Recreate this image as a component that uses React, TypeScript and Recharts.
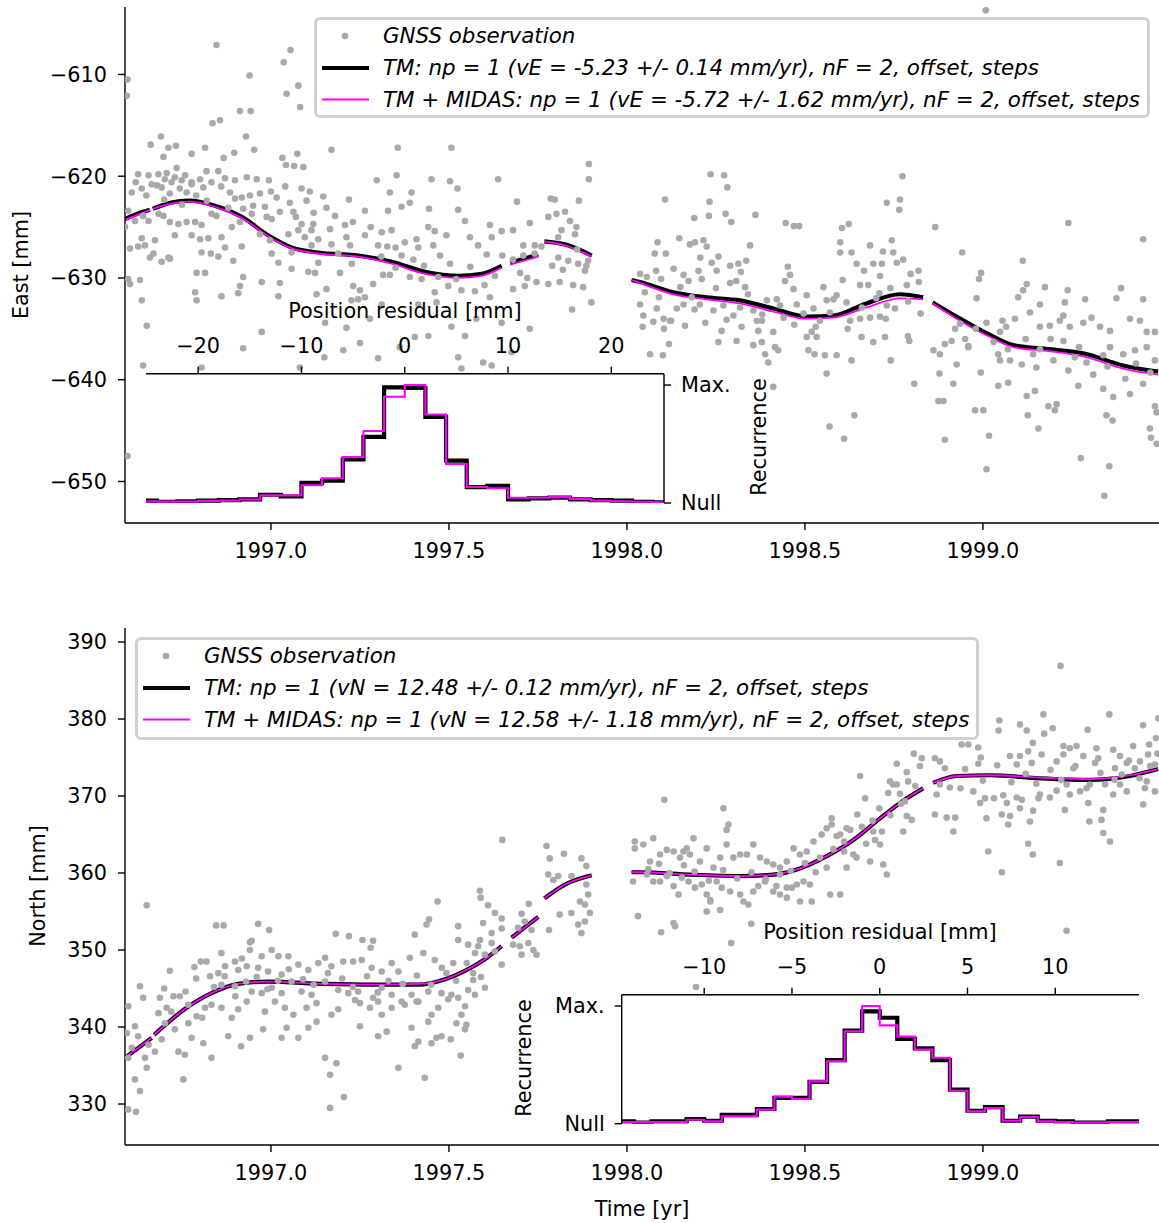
import { ComposedChart, LineChart, Line, Scatter, XAxis, YAxis, CartesianGrid } from 'recharts';

const FONT = '"DejaVu Sans", sans-serif';
const FS = 20.8;
const LEG_FS = 21.4;
const GREY = '#a9a9a9';
const MAGENTA = '#ff00ff';

// ---- x axis (time) ----
const timeTicks = [1997.0, 1997.5, 1998.0, 1998.5, 1999.0];
const timeDomain = [1996.59, 1999.503];

// ---- East component ----
const eastTicks = [-650, -640, -630, -620, -610];
const eastDomain = [-654.08, -603.37];

const eastObs: [number, number][] = [
  [1996.597, -610.5], [1996.595, -612.1], [1996.847, -607.1], [1997.055, -607.6], [1997.036, -608.8],
  [1996.94, -610.1], [1997.077, -611.1], [1997.044, -611.9], [1997.082, -613.2], [1996.913, -613.6],
  [1996.943, -613.6], [1996.836, -614.8], [1996.857, -614.5], [1996.93, -616.1], [1996.691, -616.1],
  [1996.662, -616.9], [1996.712, -617.2], [1996.733, -617.0], [1996.815, -617.2], [1996.777, -617.8],
  [1996.698, -618.1], [1996.867, -618.2], [1996.897, -617.7], [1996.953, -617.4], [1997.032, -618.2],
  [1997.074, -617.8], [1997.042, -618.9], [1997.065, -619.0], [1997.091, -619.1], [1997.17, -617.4],
  [1997.356, -617.2], [1997.507, -617.2], [1996.627, -619.8], [1996.656, -619.9], [1996.684, -619.8],
  [1996.707, -619.7], [1996.735, -619.2], [1996.759, -619.9], [1996.819, -619.5], [1996.852, -619.5],
  [1996.871, -620.2], [1996.899, -620.4], [1996.932, -620.1], [1996.96, -620.3], [1996.994, -620.4],
  [1996.702, -620.3], [1996.721, -620.6], [1996.749, -620.4], [1996.777, -620.6], [1996.801, -620.3],
  [1996.833, -620.6], [1996.609, -621.6], [1996.637, -621.2], [1996.665, -620.8], [1996.693, -621.1],
  [1996.716, -621.7], [1996.744, -621.2], [1996.763, -621.6], [1996.777, -620.8], [1996.81, -621.1],
  [1996.885, -621.6], [1996.918, -622.1], [1996.941, -621.9], [1996.969, -621.7], [1997.016, -622.1],
  [1997.053, -622.6], [1997.086, -621.2], [1997.1, -622.4], [1997.109, -621.5], [1997.147, -622.0],
  [1997.156, -623.1], [1997.219, -622.3], [1997.297, -620.4], [1997.353, -619.9], [1997.334, -621.6],
  [1997.395, -621.6], [1997.451, -620.3], [1997.503, -620.5], [1997.524, -621.2], [1997.638, -620.3],
  [1997.691, -622.5], [1997.786, -622.2], [1997.797, -622.3], [1997.865, -622.4], [1997.893, -618.8],
  [1997.893, -620.3], [1996.599, -623.4], [1996.618, -624.4], [1996.641, -623.9], [1996.656, -624.4],
  [1996.684, -623.7], [1996.698, -623.9], [1996.716, -624.5], [1996.74, -624.7], [1996.763, -624.5],
  [1996.787, -624.5], [1996.805, -624.8], [1996.833, -623.7], [1996.847, -623.9], [1996.899, -622.2],
  [1996.922, -623.2], [1996.946, -623.7], [1996.983, -623.0], [1996.988, -624.0], [1997.002, -624.2],
  [1997.025, -623.5], [1997.063, -623.5], [1997.086, -624.7], [1997.119, -624.7], [1997.114, -625.3],
  [1997.166, -625.2], [1997.208, -624.8], [1997.264, -623.4], [1997.329, -623.4], [1997.367, -623.0],
  [1997.39, -622.6], [1997.444, -623.2], [1997.526, -623.3], [1997.545, -624.4], [1997.615, -624.8],
  [1997.68, -625.3], [1997.727, -624.6], [1997.779, -624.0], [1997.802, -623.7], [1997.826, -623.5],
  [1997.84, -624.4], [1997.858, -625.0], [1996.59, -625.0], [1996.637, -626.1], [1996.674, -626.3],
  [1996.73, -625.8], [1996.777, -625.8], [1996.801, -626.2], [1996.824, -626.1], [1996.861, -626.0],
  [1996.89, -625.0], [1996.913, -624.5], [1996.969, -625.7], [1996.997, -626.3], [1997.049, -625.7],
  [1997.077, -625.3], [1997.095, -626.0], [1997.133, -626.2], [1997.17, -626.7], [1997.212, -626.0],
  [1997.222, -626.8], [1997.264, -625.8], [1997.311, -625.5], [1997.339, -625.3], [1997.376, -626.5],
  [1997.409, -626.2], [1997.442, -625.0], [1997.46, -625.4], [1997.493, -625.8], [1997.559, -626.0],
  [1997.582, -626.8], [1997.62, -626.0], [1997.648, -625.4], [1997.709, -626.8], [1997.741, -626.8],
  [1997.807, -626.0], [1997.816, -625.3], [1997.854, -625.7], [1996.604, -627.1], [1996.627, -626.9],
  [1996.646, -626.8], [1996.67, -627.6], [1996.712, -628.0], [1996.805, -627.5], [1996.831, -627.6],
  [1996.852, -627.9], [1996.871, -627.0], [1996.918, -626.9], [1997.002, -627.6], [1997.021, -628.5],
  [1997.058, -627.5], [1997.114, -626.8], [1997.133, -628.5], [1997.189, -627.6], [1997.227, -628.6],
  [1997.301, -626.8], [1997.327, -626.9], [1997.35, -627.0], [1997.367, -627.8], [1997.414, -627.0],
  [1997.456, -626.8], [1997.475, -627.8], [1997.503, -628.6], [1997.606, -627.7], [1997.68, -628.2],
  [1997.709, -627.8], [1997.741, -627.6], [1997.76, -626.9], [1997.807, -628.0], [1997.835, -628.3],
  [1997.863, -628.6], [1997.891, -628.3], [1996.599, -630.1], [1996.632, -630.2], [1996.66, -628.0],
  [1996.693, -628.4], [1996.716, -628.1], [1996.791, -629.5], [1996.815, -629.5], [1996.894, -628.3],
  [1996.922, -629.9], [1996.974, -630.4], [1997.025, -630.5], [1997.058, -629.1], [1997.105, -629.4],
  [1997.124, -629.5], [1997.194, -629.5], [1997.231, -630.8], [1997.25, -631.2], [1997.287, -630.6],
  [1997.315, -629.7], [1997.334, -629.7], [1997.39, -629.9], [1997.423, -630.1], [1997.46, -631.4],
  [1997.498, -630.8], [1997.573, -631.3], [1997.629, -629.8], [1997.68, -631.1], [1997.713, -630.8],
  [1997.746, -630.4], [1997.779, -630.6], [1997.811, -630.4], [1997.849, -630.7], [1997.882, -629.3],
  [1997.886, -628.8], [1997.877, -630.9], [1997.9, -632.4], [1996.604, -630.6], [1996.637, -632.2],
  [1996.787, -631.4], [1996.791, -632.2], [1996.861, -631.8], [1996.913, -630.8], [1996.908, -631.5],
  [1997.021, -631.8], [1997.128, -631.6], [1997.156, -631.1], [1997.226, -632.2], [1997.245, -632.1],
  [1997.264, -631.9], [1997.311, -632.6], [1997.414, -632.6], [1997.465, -632.4], [1997.535, -631.2],
  [1997.615, -631.9], [1997.846, -633.1], [1996.651, -634.7], [1996.974, -635.3], [1997.152, -634.4],
  [1997.212, -634.9], [1997.278, -634.0], [1997.507, -634.8], [1997.545, -635.7], [1997.577, -634.0],
  [1997.648, -634.4], [1997.727, -635.0], [1996.641, -638.6], [1996.805, -638.8], [1996.922, -636.9],
  [1997.081, -638.8], [1997.15, -637.8], [1997.203, -637.1], [1997.25, -636.4], [1997.301, -637.9],
  [1997.362, -636.8], [1997.404, -635.8], [1997.442, -635.7], [1997.526, -637.8], [1997.596, -638.3],
  [1997.62, -638.6], [1997.676, -637.3], [1997.535, -638.9], [1996.597, -647.5],
  [1996.62, -620.6], [1996.65, -621.9], [1996.68, -620.9], [1996.7, -622.3], [1996.73, -620.1],
  [1996.75, -622.8], [1996.79, -621.9], [1996.82, -622.4], [1996.86, -621.0], [1996.88, -623.1],
  [1996.95, -622.9], [1997.0, -621.5], [1997.04, -621.0], [1997.07, -624.0], [1997.12, -623.6],
  [1997.18, -623.9], [1997.23, -624.5], [1997.28, -625.0], [1997.31, -627.9], [1997.35, -629.0],
  [1997.4, -628.2], [1997.43, -628.8], [1997.47, -629.9], [1997.52, -630.1], [1997.56, -628.9],
  [1997.6, -630.7], [1997.65, -627.8], [1997.7, -629.5], [1997.72, -630.0], [1997.79, -628.8],
  [1997.82, -629.2], [1997.86, -627.2],
  [1999.008, -603.7], [1998.235, -619.8], [1998.273, -619.9], [1998.282, -621.1], [1998.774, -620.0],
  [1998.107, -622.3], [1998.232, -622.5], [1998.189, -624.1], [1998.23, -623.9], [1998.277, -623.7],
  [1998.293, -624.5], [1998.361, -623.8], [1998.446, -624.6], [1998.469, -624.9], [1998.484, -624.9],
  [1998.604, -625.1], [1998.623, -624.7], [1998.866, -625.0], [1999.24, -624.6], [1999.45, -626.2],
  [1998.767, -622.3], [1998.765, -623.3], [1998.73, -622.6], [1998.086, -626.5], [1998.078, -627.6],
  [1998.109, -627.6], [1998.147, -626.1], [1998.177, -626.7], [1998.191, -626.5], [1998.215, -626.3],
  [1998.224, -626.9], [1998.206, -628.0], [1998.238, -628.5], [1998.257, -627.9], [1998.346, -626.8],
  [1998.599, -626.5], [1998.599, -627.5], [1998.631, -627.5], [1998.683, -626.8], [1998.744, -626.3],
  [1998.719, -627.4], [1998.748, -627.5], [1998.942, -627.5], [1999.112, -628.3], [1998.037, -629.6],
  [1998.056, -629.9], [1998.082, -629.3], [1998.096, -630.1], [1998.131, -629.1], [1998.159, -629.7],
  [1998.173, -630.3], [1998.201, -629.3], [1998.21, -630.1], [1998.252, -629.3], [1998.29, -628.8],
  [1998.313, -628.6], [1998.335, -628.3], [1998.32, -629.4], [1998.307, -630.3], [1998.29, -630.5],
  [1998.332, -630.9], [1998.452, -628.9], [1998.458, -629.7], [1998.444, -630.3], [1998.468, -631.1],
  [1998.505, -631.7], [1998.552, -630.9], [1998.58, -632.1], [1998.606, -630.2], [1998.645, -628.6],
  [1998.666, -629.3], [1998.692, -628.6], [1998.711, -629.8], [1998.716, -628.6], [1998.758, -628.5],
  [1998.776, -628.2], [1998.797, -629.6], [1998.819, -629.3], [1998.786, -630.7], [1998.655, -630.7],
  [1998.678, -630.7], [1998.709, -631.5], [1998.73, -632.7], [1998.753, -633.0], [1998.982, -632.0],
  [1998.995, -629.5], [1998.989, -630.1], [1999.113, -631.2], [1999.123, -630.6], [1999.099, -631.9],
  [1999.16, -632.6], [1999.174, -630.9], [1999.238, -631.2], [1999.23, -632.4], [1999.287, -632.1],
  [1999.388, -631.0], [1999.375, -632.0], [1999.45, -632.1], [1998.037, -632.6], [1998.046, -633.7],
  [1998.084, -633.0], [1998.103, -634.0], [1998.121, -634.2], [1998.14, -633.0], [1998.159, -632.6],
  [1998.182, -631.9], [1998.205, -632.6], [1998.243, -633.2], [1998.271, -632.7], [1998.299, -633.7],
  [1998.318, -632.9], [1998.355, -633.2], [1998.365, -634.2], [1998.393, -632.2], [1998.421, -632.1],
  [1998.43, -632.7], [1998.477, -632.6], [1998.496, -633.5], [1998.524, -633.0], [1998.561, -632.2],
  [1998.589, -631.7], [1998.617, -632.4], [1998.627, -634.2], [1998.655, -634.0], [1998.683, -633.9],
  [1998.711, -633.8], [1998.727, -634.0], [1998.825, -633.5], [1998.044, -634.8], [1998.074, -634.3],
  [1998.104, -635.0], [1998.124, -634.2], [1998.163, -634.7], [1998.22, -634.4], [1998.266, -635.2],
  [1998.322, -634.8], [1998.369, -635.2], [1998.379, -634.2], [1998.411, -635.3], [1998.542, -634.2],
  [1998.922, -635.0], [1998.936, -634.5], [1998.959, -636.8], [1999.01, -634.4], [1999.048, -635.3],
  [1999.055, -634.2], [1999.065, -634.8], [1999.09, -634.0], [1999.132, -633.4], [1999.16, -634.8],
  [1999.188, -634.7], [1999.216, -634.2], [1999.244, -634.8], [1999.226, -633.7], [1999.282, -634.4],
  [1999.305, -633.9], [1999.329, -634.8], [1999.357, -635.2], [1999.413, -634.0], [1999.441, -634.2],
  [1999.46, -635.3], [1999.483, -635.3], [1998.065, -637.5], [1998.101, -637.6], [1998.118, -636.5],
  [1998.257, -636.3], [1998.308, -636.2], [1998.355, -636.6], [1998.379, -636.3], [1998.388, -637.5],
  [1998.397, -638.3], [1998.416, -636.8], [1998.425, -637.1], [1998.505, -635.8], [1998.519, -635.3],
  [1998.533, -635.8], [1998.51, -637.1], [1998.527, -637.5], [1998.556, -637.6], [1998.589, -637.6],
  [1998.631, -638.1], [1998.659, -635.8], [1998.692, -636.3], [1998.725, -635.8], [1998.741, -638.1],
  [1998.789, -635.7], [1998.793, -636.2], [1998.861, -637.1], [1998.879, -637.5], [1998.893, -636.5],
  [1998.912, -636.2], [1998.926, -638.5], [1998.959, -636.7], [1999.043, -637.5], [1999.048, -638.1],
  [1999.076, -638.1], [1999.109, -638.5], [1999.141, -637.5], [1999.16, -637.0], [1999.198, -638.1],
  [1999.226, -636.2], [1999.258, -637.8], [1999.291, -638.3], [1999.338, -637.6], [1999.357, -636.8],
  [1999.394, -637.5], [1999.427, -637.1], [1999.46, -636.8], [1999.483, -638.1], [1998.994, -639.3],
  [1999.043, -640.6], [1999.071, -640.3], [1999.123, -641.6], [1999.146, -641.1], [1999.184, -642.6],
  [1999.202, -643.0], [1999.207, -642.4], [1999.268, -640.6], [1999.338, -640.9], [1999.366, -641.7],
  [1999.413, -641.4], [1999.45, -640.4], [1999.483, -642.6], [1999.488, -643.2], [1998.889, -642.1],
  [1998.875, -642.1], [1998.978, -643.0], [1999.001, -643.0], [1999.126, -643.5], [1999.156, -644.8],
  [1999.347, -643.5], [1999.364, -644.0], [1999.469, -644.8], [1999.472, -645.7], [1999.488, -646.3],
  [1998.878, -639.4], [1998.917, -640.4], [1998.807, -640.4], [1998.639, -643.5], [1998.569, -644.6],
  [1998.61, -645.8], [1998.893, -645.9], [1999.017, -645.5], [1999.01, -648.8], [1999.275, -647.7],
  [1999.355, -648.5], [1999.341, -651.4], [1998.561, -639.4], [1998.411, -640.7],
  [1998.05, -631.4], [1998.09, -631.9], [1998.15, -630.9], [1998.19, -633.1], [1998.25, -631.0],
  [1998.28, -634.1], [1998.34, -631.6], [1998.38, -633.6], [1998.44, -633.9], [1998.47, -634.6],
  [1998.53, -634.8], [1998.57, -633.4], [1998.62, -635.0], [1998.66, -632.9], [1998.7, -632.0],
  [1998.74, -631.0], [1998.79, -632.3], [1998.82, -630.4], [1998.95, -636.0], [1998.98, -635.0],
  [1999.03, -636.3], [1999.07, -637.0], [1999.12, -636.0], [1999.15, -638.8], [1999.19, -636.0],
  [1999.24, -639.1], [1999.27, -636.8], [1999.31, -639.5], [1999.35, -638.7], [1999.4, -639.9],
  [1999.43, -638.4], [1999.47, -639.3],
];

const eastTM: [number, number | null][] = [
  [1996.59, -624.2], [1996.64, -623.5], [1996.66, -623.3], [1996.663, null], [1996.668, -623.2],
  [1996.72, -622.6], [1996.768, -622.4], [1996.843, -622.9], [1996.918, -624.0], [1996.992, -625.8],
  [1997.058, -627.0], [1997.133, -627.5], [1997.245, -627.8], [1997.339, -628.4], [1997.433, -629.4],
  [1997.526, -629.8], [1997.592, -629.6], [1997.648, -628.8], [1997.66, null], [1997.672, -628.5],
  [1997.751, -627.7], [1997.758, null], [1997.768, -626.4], [1997.826, -626.7], [1997.901, -627.8],
  [1997.95, null], [1998.013, -630.2], [1998.037, -630.4], [1998.13, -631.4], [1998.224, -631.9],
  [1998.317, -632.2], [1998.411, -633.0], [1998.505, -633.8], [1998.579, -633.7], [1998.673, -632.5],
  [1998.767, -631.6], [1998.832, -631.9], [1998.845, null], [1998.859, -632.4], [1998.926, -633.8],
  [1999.02, -635.6], [1999.085, -636.6], [1999.188, -637.0], [1999.282, -637.4], [1999.394, -638.6],
  [1999.492, -639.2],
];

const eastMidas: [number, number | null][] = [
  [1996.59, -624.3], [1996.64, -623.6], [1996.66, -623.3], [1996.663, null], [1996.668, -623.2],
  [1996.72, -622.7], [1996.768, -622.5], [1996.843, -623.0], [1996.918, -624.1], [1996.992, -625.9],
  [1997.058, -627.1], [1997.133, -627.6], [1997.245, -627.9], [1997.339, -628.6], [1997.433, -629.6],
  [1997.526, -630.0], [1997.592, -629.8], [1997.648, -629.0], [1997.66, null], [1997.672, -628.7],
  [1997.751, -627.9], [1997.758, null], [1997.768, -626.4], [1997.826, -626.8], [1997.901, -627.9],
  [1997.95, null], [1998.013, -630.2], [1998.037, -630.5], [1998.13, -631.6], [1998.224, -632.1],
  [1998.317, -632.5], [1998.411, -633.3], [1998.505, -634.0], [1998.579, -633.9], [1998.673, -632.9],
  [1998.767, -632.0], [1998.832, -632.1], [1998.845, null], [1998.859, -632.5], [1998.926, -634.0],
  [1999.02, -635.8], [1999.085, -636.8], [1999.188, -637.2], [1999.282, -637.7], [1999.394, -638.9],
  [1999.492, -639.5],
];

const eastBinEdges = [-26, -24, -22, -20, -18, -16, -14, -12, -10, -8, -6, -4, -2, 0, 2, 4, 6, 8, 10, 12, 14, 16, 18, 20, 22, 24, 26];
const eastHistTM = [0.02, 0.01, 0.015, 0.02, 0.025, 0.03, 0.07, 0.055, 0.17, 0.19, 0.37, 0.56, 0.98, 0.975, 0.73, 0.36, 0.135, 0.145, 0.03, 0.04, 0.045, 0.03, 0.025, 0.02, 0.01, 0.005];
const eastHistMidas = [0.015, 0.012, 0.012, 0.018, 0.02, 0.03, 0.065, 0.065, 0.15, 0.21, 0.39, 0.61, 0.9, 1.0, 0.75, 0.33, 0.135, 0.125, 0.045, 0.045, 0.05, 0.035, 0.02, 0.015, 0.01, 0.005];
const eastResTicks = [-20, -10, 0, 10, 20];

// ---- North component ----
const northTicks = [330, 340, 350, 360, 370, 380, 390];
const northDomain = [324.68, 391.82];

const northObs: [number, number][] = [
  [1997.65, 364.3], [1997.774, 363.5], [1997.783, 361.9], [1997.823, 362.5], [1997.872, 361.9],
  [1997.886, 360.9], [1997.468, 356.3], [1997.587, 357.7], [1997.589, 356.8], [1997.61, 355.8],
  [1997.629, 354.8], [1997.648, 354.1], [1997.724, 356.0], [1997.704, 354.7], [1997.713, 353.7],
  [1997.694, 352.9], [1997.732, 352.6], [1997.779, 359.8], [1997.793, 359.1], [1997.807, 359.6],
  [1997.844, 359.6], [1997.886, 358.5], [1997.891, 357.2], [1997.868, 356.3], [1997.882, 355.9],
  [1997.844, 354.8], [1997.811, 354.6], [1997.863, 353.3], [1997.896, 354.8], [1997.872, 352.2],
  [1997.781, 352.6], [1997.882, 353.7], [1996.651, 355.8], [1996.846, 353.2], [1996.867, 353.2],
  [1996.964, 353.4], [1996.995, 352.6], [1996.946, 351.2], [1996.941, 351.0], [1997.182, 352.1],
  [1997.219, 351.8], [1997.257, 351.3], [1997.287, 351.2], [1997.28, 350.3], [1997.404, 352.0],
  [1997.437, 353.3], [1997.444, 354.0], [1997.526, 353.1], [1997.587, 351.3], [1997.596, 353.5],
  [1997.62, 352.2], [1997.648, 352.8], [1997.582, 350.5], [1997.526, 351.3], [1997.554, 350.7],
  [1997.68, 350.7], [1997.699, 350.5], [1997.723, 350.9], [1997.737, 350.0], [1997.746, 349.4],
  [1997.704, 349.4], [1996.861, 349.6], [1996.819, 348.5], [1996.785, 347.8], [1996.803, 348.5],
  [1996.716, 347.3], [1996.941, 350.0], [1996.974, 349.2], [1997.002, 350.0], [1997.021, 349.2],
  [1997.049, 349.2], [1996.918, 348.9], [1996.899, 348.5], [1996.871, 347.9], [1996.908, 347.4],
  [1996.852, 347.0], [1996.829, 346.6], [1996.932, 347.9], [1996.964, 347.7], [1996.992, 347.2],
  [1997.03, 346.8], [1997.077, 348.1], [1997.105, 347.4], [1997.133, 348.3], [1997.152, 349.0],
  [1997.17, 347.9], [1997.203, 348.5], [1997.231, 348.5], [1997.255, 348.7], [1997.283, 347.7],
  [1997.311, 347.2], [1997.339, 348.3], [1997.358, 347.2], [1997.39, 349.0], [1997.428, 349.6],
  [1997.46, 348.7], [1997.493, 347.0], [1997.512, 348.3], [1997.573, 349.6], [1997.601, 349.4],
  [1997.629, 349.8], [1997.648, 348.1], [1997.568, 347.0], [1996.688, 343.8], [1996.707, 342.5],
  [1996.684, 341.8], [1996.726, 344.0], [1996.744, 344.0], [1996.768, 342.9], [1996.791, 341.4],
  [1996.807, 341.2], [1996.815, 342.5], [1996.861, 345.5], [1996.899, 345.3], [1996.946, 344.6],
  [1996.974, 344.4], [1997.002, 345.1], [1997.03, 344.4], [1997.058, 345.9], [1997.086, 344.6],
  [1997.114, 344.2], [1997.152, 345.9], [1997.189, 344.8], [1997.217, 344.4], [1997.236, 343.5],
  [1997.245, 344.6], [1997.287, 343.8], [1997.311, 345.1], [1997.339, 344.2], [1997.367, 343.3],
  [1997.395, 344.2], [1997.414, 343.3], [1997.442, 344.6], [1997.479, 344.4], [1997.507, 344.2],
  [1997.526, 343.8], [1997.554, 344.8], [1997.568, 346.1], [1997.601, 345.1], [1997.573, 344.2],
  [1997.545, 342.7], [1997.498, 343.6], [1997.47, 342.5], [1997.451, 341.6], [1997.409, 343.3],
  [1997.376, 342.9], [1997.339, 342.5], [1997.311, 341.6], [1997.301, 343.3], [1997.278, 342.5],
  [1997.25, 343.1], [1997.189, 342.3], [1997.17, 341.6], [1997.128, 343.1], [1997.1, 342.5],
  [1997.063, 341.6], [1997.039, 342.5], [1997.011, 343.3], [1996.983, 342.0], [1996.932, 343.3],
  [1996.908, 342.3], [1996.89, 341.2], [1996.861, 342.5], [1996.833, 342.9], [1996.702, 340.5],
  [1996.73, 339.7], [1996.768, 340.5], [1996.777, 338.6], [1996.81, 337.9], [1996.693, 338.4],
  [1996.674, 336.8], [1996.656, 337.7], [1996.627, 338.8], [1996.609, 337.3], [1996.599, 336.0],
  [1996.618, 340.1], [1996.632, 345.3], [1996.641, 343.8], [1996.599, 342.7], [1996.595, 339.2],
  [1997.25, 340.1], [1997.301, 338.8], [1997.325, 339.4], [1997.442, 340.7], [1997.395, 339.9],
  [1997.465, 338.6], [1997.479, 338.8], [1997.505, 338.4], [1997.535, 341.6], [1997.545, 339.7],
  [1997.549, 340.3], [1997.521, 340.5], [1997.414, 338.1], [1997.404, 337.5], [1997.451, 337.9],
  [1997.044, 339.9], [1997.077, 338.6], [1997.105, 339.9], [1997.128, 340.7], [1996.978, 339.7],
  [1996.941, 338.6], [1996.88, 338.8], [1996.916, 337.5], [1996.74, 336.8], [1996.758, 336.4],
  [1996.833, 336.0], [1997.152, 336.0], [1997.184, 335.3], [1997.166, 333.8], [1997.358, 334.7],
  [1997.432, 333.4], [1997.533, 336.3], [1997.03, 338.6], [1996.754, 333.2], [1996.618, 333.2],
  [1996.632, 331.7], [1996.599, 329.3], [1996.621, 329.0], [1996.651, 334.7], [1996.646, 336.0],
  [1997.166, 329.5], [1997.205, 330.9], [1998.022, 364.1], [1998.022, 363.2], [1998.017, 358.9],
  [1998.031, 354.4],
  [1996.7, 345.0], [1996.72, 342.0], [1996.76, 344.6], [1996.79, 346.3], [1996.84, 345.2],
  [1996.87, 346.6], [1996.9, 344.0], [1996.93, 345.9], [1996.96, 346.5], [1996.99, 344.9],
  [1997.02, 346.0], [1997.05, 347.5], [1997.09, 346.2], [1997.12, 345.5], [1997.16, 347.0],
  [1997.2, 346.3], [1997.23, 345.2], [1997.27, 346.6], [1997.3, 344.5], [1997.33, 346.0],
  [1997.37, 345.6], [1997.41, 346.7], [1997.45, 345.5], [1997.48, 347.7], [1997.52, 346.0],
  [1997.55, 348.3], [1997.59, 346.5], [1997.62, 350.9],
  [1999.218, 386.9], [1999.355, 380.6], [1999.17, 380.6], [1999.046, 379.8], [1999.044, 378.5],
  [1999.104, 379.3], [1999.123, 378.5], [1999.172, 378.1], [1999.196, 378.8], [1999.294, 378.6],
  [1999.45, 379.2], [1999.493, 380.1], [1999.486, 377.5], [1999.467, 376.7], [1998.94, 376.7],
  [1998.959, 376.7], [1998.987, 376.3], [1998.994, 375.0], [1998.987, 374.2], [1999.14, 376.9],
  [1999.127, 375.8], [1999.076, 375.2], [1999.104, 375.2], [1999.095, 374.1], [1999.137, 374.3],
  [1999.165, 375.4], [1999.226, 376.5], [1999.244, 376.2], [1999.263, 376.5], [1999.226, 375.4],
  [1999.207, 374.5], [1999.254, 373.6], [1999.282, 375.2], [1999.319, 376.2], [1999.324, 374.9],
  [1999.315, 374.3], [1999.366, 376.0], [1999.385, 375.2], [1999.404, 374.3], [1999.422, 376.5],
  [1999.441, 374.5], [1999.464, 375.4], [1999.483, 374.1], [1999.371, 373.6], [1999.39, 372.8],
  [1999.46, 371.9], [1999.427, 373.6], [1998.806, 375.5], [1998.758, 374.2], [1998.828, 374.9],
  [1998.823, 373.9], [1998.786, 373.1], [1998.79, 371.9], [1998.655, 372.6], [1998.739, 371.9],
  [1998.758, 371.5], [1998.865, 374.9], [1998.879, 374.5], [1998.893, 373.6], [1998.907, 371.1],
  [1998.937, 371.0], [1998.973, 370.6], [1999.006, 369.7], [1999.031, 369.7], [1999.057, 370.1],
  [1999.095, 369.8], [1999.109, 369.5], [1999.141, 368.1], [1999.16, 370.2], [1999.207, 370.7],
  [1999.235, 371.5], [1999.244, 370.2], [1999.273, 370.6], [1999.291, 371.0], [1999.343, 371.5],
  [1999.366, 370.2], [1999.385, 371.5], [1999.404, 370.6], [1999.455, 371.0], [1999.483, 370.6],
  [1999.45, 368.9], [1999.296, 369.1], [1999.23, 368.2], [1999.188, 369.8], [1999.156, 369.7],
  [1999.104, 368.4], [1999.067, 369.1], [1999.053, 367.6], [1999.01, 367.1], [1998.992, 369.1],
  [1999.076, 367.4], [1998.865, 367.6], [1998.898, 367.2], [1998.922, 367.2], [1998.917, 365.4],
  [1999.071, 366.3], [1999.132, 366.7], [1999.333, 366.9], [1999.299, 366.7], [1999.338, 365.2],
  [1999.357, 364.1], [1999.127, 363.8], [1999.14, 362.4], [1999.015, 362.8], [1999.216, 361.3],
  [1999.053, 360.1], [1998.87, 370.2], [1998.879, 371.5], [1998.105, 369.5], [1998.271, 368.4],
  [1998.285, 366.3], [1998.28, 365.6], [1998.575, 367.1], [1998.647, 367.6], [1998.669, 369.7],
  [1998.709, 368.4], [1998.734, 370.4], [1998.748, 371.5], [1998.767, 370.3], [1998.781, 369.3],
  [1998.8, 366.9], [1998.786, 367.4], [1998.776, 365.4], [1998.692, 365.4], [1998.716, 365.4],
  [1998.697, 364.3], [1998.711, 363.7], [1998.672, 363.8], [1998.617, 365.8], [1998.627, 365.6],
  [1998.599, 365.0], [1998.61, 364.1], [1998.589, 364.8], [1998.575, 366.3], [1998.561, 365.8],
  [1998.547, 365.0], [1998.524, 364.1], [1998.505, 362.8], [1998.486, 362.4], [1998.468, 363.2],
  [1998.449, 361.5], [1998.43, 360.7], [1998.411, 361.1], [1998.393, 361.5], [1998.374, 362.0],
  [1998.355, 363.7], [1998.337, 362.4], [1998.318, 362.4], [1998.299, 362.0], [1998.28, 363.7],
  [1998.262, 362.0], [1998.243, 360.7], [1998.224, 363.2], [1998.205, 361.5], [1998.187, 364.5],
  [1998.177, 362.4], [1998.168, 363.2], [1998.159, 362.8], [1998.149, 362.0], [1998.131, 362.8],
  [1998.112, 363.0], [1998.093, 362.4], [1998.074, 364.5], [1998.065, 361.5], [1998.046, 363.7],
  [1998.056, 359.8], [1998.074, 358.9], [1998.093, 358.9], [1998.112, 359.6], [1998.131, 358.3],
  [1998.145, 357.2], [1998.154, 359.4], [1998.173, 358.9], [1998.191, 358.1], [1998.21, 358.5],
  [1998.224, 357.2], [1998.234, 356.3], [1998.252, 358.9], [1998.266, 358.1], [1998.29, 357.6],
  [1998.318, 357.2], [1998.327, 356.3], [1998.341, 355.9], [1998.355, 357.6], [1998.369, 358.3],
  [1998.388, 358.9], [1998.411, 357.6], [1998.43, 357.2], [1998.449, 356.8], [1998.463, 358.1],
  [1998.477, 358.5], [1998.496, 358.9], [1998.514, 358.5], [1998.519, 356.3], [1998.486, 356.3],
  [1998.449, 358.1], [1998.43, 359.8], [1998.542, 362.0], [1998.561, 360.7], [1998.571, 357.2],
  [1998.599, 357.2], [1998.617, 360.7], [1998.645, 362.0], [1998.683, 361.5], [1998.72, 361.1],
  [1998.73, 359.8], [1998.636, 362.4], [1998.224, 355.0], [1998.262, 355.2], [1998.234, 356.5],
  [1998.131, 353.5], [1998.135, 353.1], [1998.096, 352.3], [1998.293, 350.9], [1998.349, 353.4],
  [1998.194, 345.2], [1999.235, 352.5], [1999.338, 368.2],
  [1998.06, 360.5], [1998.09, 361.2], [1998.12, 360.0], [1998.16, 361.0], [1998.19, 360.2],
  [1998.23, 359.0], [1998.27, 360.4], [1998.31, 359.3], [1998.35, 360.1], [1998.39, 359.2],
  [1998.42, 358.3], [1998.46, 360.3], [1998.5, 361.3], [1998.53, 360.1], [1998.58, 363.1],
  [1998.61, 362.8], [1998.66, 366.0], [1998.69, 366.8], [1998.74, 367.5], [1998.77, 369.0],
  [1998.81, 371.3], [1998.95, 373.5], [1999.0, 372.0], [1999.04, 374.0], [1999.08, 371.8],
  [1999.12, 372.9], [1999.15, 371.6], [1999.19, 373.4], [1999.22, 372.1], [1999.26, 373.9],
  [1999.3, 371.5], [1999.33, 373.0], [1999.37, 372.1], [1999.41, 374.6], [1999.44, 372.3],
  [1999.47, 373.9], [1999.49, 375.5],
];

const northTM: [number, number | null][] = [
  [1996.59, 336.0], [1996.665, 338.6], [1996.668, null], [1996.672, 339.0], [1996.763, 342.5],
  [1996.833, 344.4], [1996.908, 345.6], [1996.992, 345.9], [1997.152, 345.6], [1997.292, 345.5],
  [1997.414, 345.5], [1997.489, 346.2], [1997.545, 347.3], [1997.601, 348.8], [1997.648, 350.5],
  [1997.66, null], [1997.676, 351.6], [1997.751, 354.3], [1997.758, null], [1997.768, 356.7],
  [1997.826, 358.5], [1997.901, 359.7], [1997.95, null], [1998.013, 360.1], [1998.037, 360.1],
  [1998.177, 359.8], [1998.317, 359.6], [1998.411, 359.8], [1998.486, 360.6], [1998.561, 362.2],
  [1998.636, 364.3], [1998.711, 367.1], [1998.786, 369.7], [1998.832, 371.0], [1998.846, null],
  [1998.86, 371.7], [1998.926, 372.6], [1999.02, 372.7], [1999.16, 372.3], [1999.3, 372.1],
  [1999.413, 372.6], [1999.492, 373.5],
];

const northMidas: [number, number | null][] = [
  [1996.59, 336.0], [1996.665, 338.6], [1996.668, null], [1996.672, 339.0], [1996.763, 342.5],
  [1996.833, 344.4], [1996.908, 345.6], [1996.992, 345.9], [1997.152, 345.6], [1997.292, 345.5],
  [1997.414, 345.6], [1997.489, 346.2], [1997.545, 347.3], [1997.601, 348.8], [1997.648, 350.5],
  [1997.66, null], [1997.676, 351.6], [1997.751, 354.3], [1997.758, null], [1997.768, 356.7],
  [1997.826, 358.5], [1997.901, 359.7], [1997.95, null], [1998.013, 360.1], [1998.037, 360.1],
  [1998.177, 359.8], [1998.317, 359.6], [1998.411, 359.8], [1998.486, 360.6], [1998.561, 362.2],
  [1998.636, 364.3], [1998.711, 367.1], [1998.786, 369.7], [1998.832, 371.0], [1998.846, null],
  [1998.86, 371.7], [1998.926, 372.6], [1999.02, 372.7], [1999.16, 372.4], [1999.3, 372.2],
  [1999.413, 372.7], [1999.492, 373.5],
];

const northBinEdges = [-15, -14, -13, -12, -11, -10, -9, -8, -7, -6, -5, -4, -3, -2, -1, 0, 1, 2, 3, 4, 5, 6, 7, 8, 9, 10, 11, 12, 13, 14, 15];
const northHistTM = [0.02, 0.01, 0.02, 0.02, 0.04, 0.025, 0.075, 0.075, 0.125, 0.22, 0.22, 0.355, 0.54, 0.79, 0.955, 0.9, 0.72, 0.64, 0.54, 0.29, 0.11, 0.14, 0.025, 0.06, 0.025, 0.02, 0.01, 0.01, 0.02, 0.02];
const northHistMidas = [0.015, 0.015, 0.015, 0.015, 0.034, 0.02, 0.062, 0.062, 0.12, 0.23, 0.21, 0.36, 0.53, 0.785, 1.0, 0.835, 0.74, 0.63, 0.56, 0.28, 0.105, 0.133, 0.025, 0.057, 0.02, 0.015, 0.01, 0.01, 0.015, 0.015];
const northResTicks = [-10, -5, 0, 5, 10];

const histTicks = [0, 1];

// ---- helpers ----
const toPts = (a: [number, number | null][]) => a.map(([t, v]) => ({ t, v }));
const toSteps = (edges: number[], vals: number[]) =>
  edges.map((x, i) => ({ x, v: vals[Math.min(i, vals.length - 1)] }));
const fmtMinus = (v: number) => (v < 0 ? '\u2212' + Math.abs(v) : String(v));
const tickStyle = { fill: '#000', fontSize: FS, fontFamily: FONT };
const axisStroke = { stroke: '#000', strokeWidth: 1.4 };

const Dot = (p: any) => <circle cx={p.cx} cy={p.cy} r={3.3} fill={GREY} />;

function Text({ x, y, children, rotate = false }: { x: number; y: number; children: any; rotate?: boolean }) {
  return (
    <div
      style={{
        position: 'absolute', left: x, top: y, whiteSpace: 'nowrap', fontFamily: FONT, fontSize: FS,
        transform: `translate(-50%, -50%)${rotate ? ' rotate(-90deg)' : ''}`, lineHeight: 1,
      }}
    >
      {children}
    </div>
  );
}

function LegendBox({ left, top, width, height, labels }: { left: number; top: number; width: number; height: number; labels: string[] }) {
  const rows = [18, 50, 81.5];
  return (
    <div
      style={{
        position: 'absolute', left, top, width, height, boxSizing: 'border-box',
        border: '3px solid #cfcfcf', borderRadius: 6, background: 'rgba(255,255,255,0.8)',
      }}
    >
      <svg width={70} height={height} style={{ position: 'absolute', left: 0, top: 0 }}>
        <circle cx={28} cy={rows[0] - 2} r={3.3} fill={GREY} />
        <line x1={5} x2={52} y1={rows[1] - 2} y2={rows[1] - 2} stroke="#000" strokeWidth={4.2} />
        <line x1={5} x2={52} y1={rows[2] - 2} y2={rows[2] - 2} stroke={MAGENTA} strokeWidth={2.1} />
      </svg>
      {labels.map((s, i) => (
        <div
          key={i}
          style={{
            position: 'absolute', left: 66, top: rows[i] - 2, transform: 'translateY(-50%)', whiteSpace: 'nowrap',
            fontFamily: FONT, fontSize: LEG_FS, fontStyle: 'italic', lineHeight: 1,
          }}
        >
          {s}
        </div>
      ))}
    </div>
  );
}

function MainPanel({ top, height, marginTop, domain, ticks, obs, tm, midas }: any) {
  return (
    <div style={{ position: 'absolute', left: 0, top }}>
      <ComposedChart width={1162} height={height} margin={{ top: marginTop, right: 0, bottom: 0, left: 0 }}>
        <XAxis
          dataKey="t" type="number" domain={timeDomain} ticks={timeTicks} interval={0} allowDataOverflow
          tickFormatter={(v: number) => v.toFixed(1)} height={47} tick={tickStyle}
          axisLine={axisStroke} tickLine={axisStroke} tickSize={7} tickMargin={13}
        />
        <XAxis xAxisId="top" orientation="top" type="number" domain={timeDomain} height={0} tick={false} axisLine={axisStroke} tickLine={false} />
        <YAxis
          dataKey="v" type="number" domain={domain} ticks={ticks} interval={0} allowDataOverflow
          tickFormatter={fmtMinus} width={125} tick={tickStyle}
          axisLine={axisStroke} tickLine={axisStroke} tickSize={7} tickMargin={11}
        />
        <Scatter data={obs.map(([t, v]: [number, number]) => ({ t, v }))} shape={Dot} isAnimationActive={false} />
        <Line data={toPts(tm)} dataKey="v" type="monotone" stroke="#000" strokeWidth={4.2} dot={false} connectNulls={false} isAnimationActive={false} />
        <Line data={toPts(midas)} dataKey="v" type="monotone" stroke={MAGENTA} strokeWidth={1.8} dot={false} connectNulls={false} isAnimationActive={false} />
      </ComposedChart>
    </div>
  );
}

function Inset({ left, top, width, height, margin, domain, resTicks, edges, histTM, histMidas, side }: any) {
  const yRight = side === 'right';
  return (
    <div style={{ position: 'absolute', left, top }}>
      <LineChart width={width} height={height} margin={margin}>
        <CartesianGrid fill="#fff" stroke="none" horizontal={false} vertical={false} />
        <XAxis
          dataKey="x" type="number" orientation="top" domain={domain} ticks={resTicks} interval={0} allowDataOverflow
          tickFormatter={fmtMinus} height={40} tick={tickStyle} axisLine={axisStroke} tickLine={axisStroke}
          tickSize={7} tickMargin={14}
        />
        <XAxis xAxisId="b" dataKey="x" type="number" orientation="bottom" domain={domain} height={0} tick={false} axisLine={axisStroke} tickLine={false} />
        <YAxis
          type="number" orientation={yRight ? 'right' : 'left'} domain={[0, 1.096]} ticks={histTicks} interval={0}
          allowDataOverflow tickFormatter={(v: number) => (v === 1 ? 'Max.' : 'Null')} width={yRight ? 70 : 80}
          tick={tickStyle} axisLine={axisStroke} tickLine={axisStroke} tickSize={7} tickMargin={10}
        />
        <YAxis yAxisId="o" type="number" orientation={yRight ? 'left' : 'right'} domain={[0, 1.096]} width={0} tick={false} axisLine={axisStroke} tickLine={false} />
        <Line data={toSteps(edges, histTM)} dataKey="v" type="stepAfter" stroke="#000" strokeWidth={4.2} dot={false} isAnimationActive={false} />
        <Line data={toSteps(edges, histMidas)} dataKey="v" type="stepAfter" stroke={MAGENTA} strokeWidth={2.1} dot={false} isAnimationActive={false} />
      </LineChart>
    </div>
  );
}

export default function App() {
  return (
    <div style={{ position: 'absolute', left: 0, top: 0, width: 1159, height: 1223, overflow: 'hidden', background: '#fff', fontFamily: FONT }}>
      <MainPanel top={0} height={570} marginTop={7} domain={eastDomain} ticks={eastTicks} obs={eastObs} tm={eastTM} midas={eastMidas} />
      <MainPanel top={600} height={592} marginTop={28} domain={northDomain} ticks={northTicks} obs={northObs} tm={northTM} midas={northMidas} />

      <LegendBox
        left={314} top={17} width={836} height={101}
        labels={[
          'GNSS observation',
          'TM: np = 1 (vE = -5.23 +/- 0.14 mm/yr), nF = 2, offset, steps',
          'TM + MIDAS: np = 1 (vE = -5.72 +/- 1.62 mm/yr), nF = 2, offset, steps',
        ]}
      />
      <LegendBox
        left={135} top={637} width={844} height={103}
        labels={[
          'GNSS observation',
          'TM: np = 1 (vN = 12.48 +/- 0.12 mm/yr), nF = 2, offset, steps',
          'TM + MIDAS: np = 1 (vN = 12.58 +/- 1.18 mm/yr), nF = 2, offset, steps',
        ]}
      />

      <Inset
        left={100} top={290} width={720} height={230}
        margin={{ top: 43.7, right: 86, bottom: 17, left: 46 }}
        domain={[-25.05, 25.1]} resTicks={eastResTicks} edges={eastBinEdges}
        histTM={eastHistTM} histMidas={eastHistMidas} side="right"
      />
      <Inset
        left={480} top={900} width={680} height={240}
        margin={{ top: 54.7, right: 21, bottom: 16.3, left: 61.7 }}
        domain={[-14.7, 14.77]} resTicks={northResTicks} edges={northBinEdges}
        histTM={northHistTM} histMidas={northHistMidas} side="left"
      />

      <Text x={21} y={265} rotate>East [mm]</Text>
      <Text x={38} y={886} rotate>North [mm]</Text>
      <Text x={642} y={1209}>Time [yr]</Text>
      <Text x={405} y={311}>Position residual [mm]</Text>
      <Text x={759} y={437} rotate>Recurrence</Text>
      <Text x={880} y={932}>Position residual [mm]</Text>
      <Text x={524} y={1058} rotate>Recurrence</Text>
    </div>
  );
}
